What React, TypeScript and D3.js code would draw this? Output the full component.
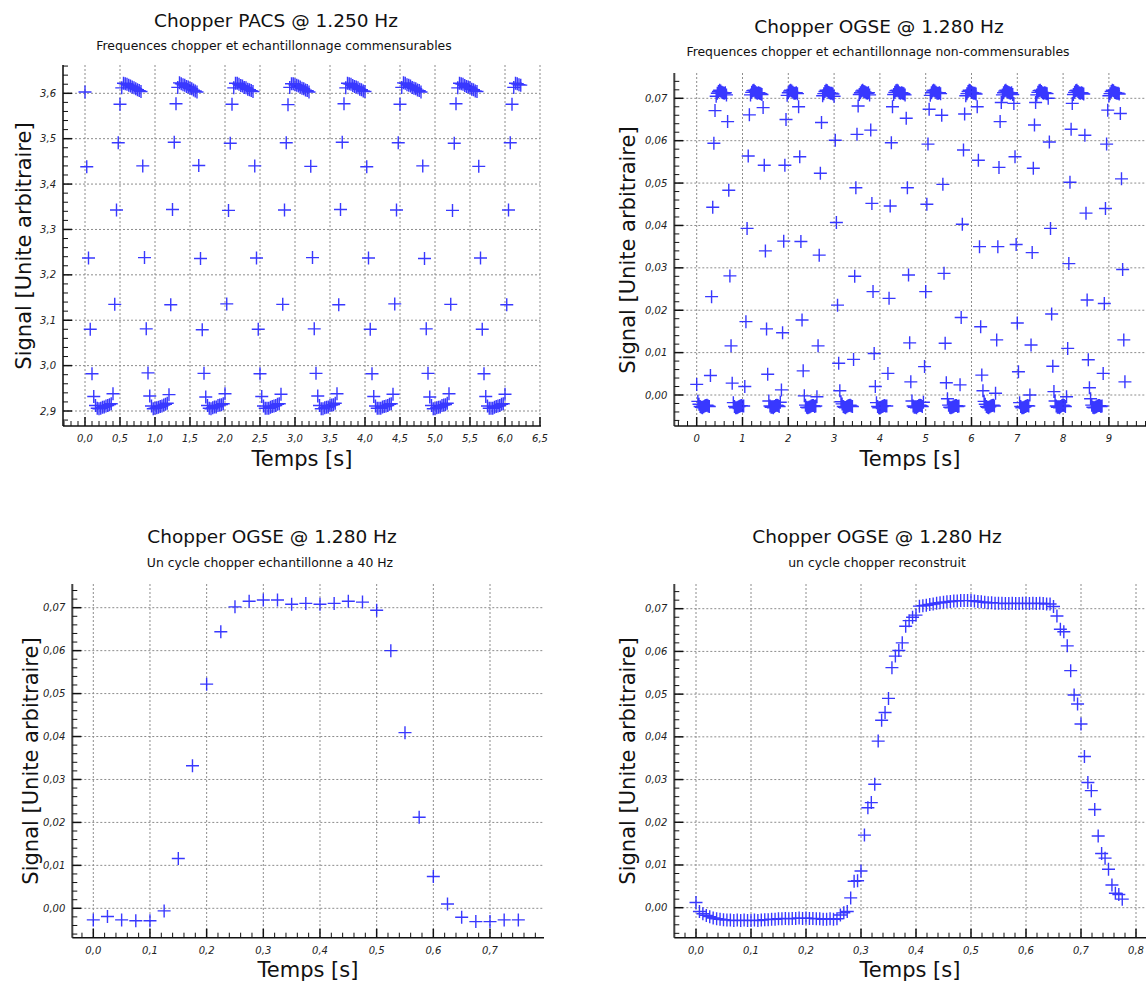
import React from "react";
import * as d3 from "d3";

// ---------------- DATA ----------------
const SAMPLE_DT = 0.025; // 40 Hz sampling
const OGSE_PERIOD = 0.78125; // 1.280 Hz chopper

// Chopper PACS @ 1.250 Hz : one row per chopper cycle (32 samples each, last one truncated)
const pacsCycles: number[][] = [
  [3.603, 3.438, 3.237, 3.080, 2.982, 2.932, 2.912, 2.906, 2.905, 2.906, 2.908, 2.909, 2.911, 2.912, 2.914, 2.916, 2.938, 3.135, 3.343, 3.491, 3.576, 3.612, 3.622, 3.621, 3.620, 3.618, 3.616, 3.614, 3.612, 3.610, 3.608, 3.606],
  [3.604, 3.440, 3.238, 3.081, 2.984, 2.933, 2.911, 2.905, 2.906, 2.907, 2.908, 2.910, 2.911, 2.913, 2.915, 2.917, 2.936, 3.134, 3.344, 3.492, 3.577, 3.613, 3.623, 3.621, 3.619, 3.618, 3.615, 3.614, 3.611, 3.610, 3.607, 3.605],
  [3.603, 3.441, 3.236, 3.079, 2.983, 2.931, 2.912, 2.906, 2.905, 2.907, 2.909, 2.909, 2.912, 2.913, 2.914, 2.916, 2.938, 3.136, 3.342, 3.490, 3.576, 3.612, 3.622, 3.622, 3.620, 3.617, 3.616, 3.613, 3.612, 3.609, 3.608, 3.606],
  [3.604, 3.440, 3.237, 3.080, 2.982, 2.932, 2.911, 2.906, 2.906, 2.906, 2.908, 2.910, 2.911, 2.912, 2.915, 2.916, 2.937, 3.135, 3.343, 3.491, 3.575, 3.613, 3.621, 3.621, 3.619, 3.618, 3.616, 3.614, 3.611, 3.610, 3.607, 3.606],
  [3.603, 3.439, 3.238, 3.081, 2.983, 2.933, 2.912, 2.905, 2.905, 2.907, 2.908, 2.909, 2.912, 2.913, 2.914, 2.917, 2.938, 3.134, 3.344, 3.492, 3.577, 3.612, 3.622, 3.621, 3.620, 3.617, 3.615, 3.614, 3.612, 3.609, 3.608, 3.605],
  [3.604, 3.438, 3.237, 3.080, 2.982, 2.932, 2.911, 2.906, 2.906, 2.906, 2.909, 2.910, 2.911, 2.912, 2.915, 2.916, 2.937, 3.136, 3.343, 3.491, 3.576, 3.613, 3.623, 3.622, 3.619, 3.618, 3.616, 3.613, 3.611, 3.610, 3.607, 3.606],
  [3.603, 3.440, 3.236, 3.081, 2.983, 2.931, 2.912, 2.905, 2.905, 2.907, 2.908, 2.909, 2.912, 2.913, 2.914, 2.917, 2.938, 3.135, 3.342, 3.490, 3.577, 3.612, 3.622, 3.621, 3.620, 3.617, 3.615, 3.614, 3.612, 3.609, 3.608, 3.605],
  [3.604, 3.439, 3.237, 3.080, 2.982, 2.932, 2.911, 2.906, 2.906, 2.906, 2.908, 2.910, 2.911, 2.912, 2.915, 2.916, 2.937, 3.134, 3.343, 3.491, 3.576, 3.613, 3.622, 3.621, 3.619, 3.618],
];

// Chopper OGSE @ 1.280 Hz : raw 40 Hz samples, one row per chopper cycle
const ogseCycles: number[][] = [
  [0.0025, -0.0015, -0.0022, -0.0027, -0.0029, -0.0030, -0.0028, -0.0026, -0.0025, -0.0024, -0.0026, -0.0027, 0.0046, 0.0232, 0.0443, 0.0594, 0.0671, 0.0705, 0.0712, 0.0716, 0.0719, 0.0717, 0.0714, 0.0713, 0.0712, 0.0713, 0.0708, 0.0645, 0.0483, 0.0281, 0.0116, 0.0028],
  [-0.0018, -0.0027, -0.0030, -0.0030, -0.0029, -0.0027, -0.0026, -0.0025, -0.0026, -0.0026, 0.0020, 0.0173, 0.0393, 0.0564, 0.0661, 0.0708, 0.0714, 0.0718, 0.0719, 0.0716, 0.0713, 0.0712, 0.0713, 0.0712, 0.0711, 0.0709, 0.0678, 0.0542, 0.0340, 0.0156, 0.0049],
  [-0.0014, -0.0026, -0.0029, -0.0029, -0.0030, -0.0027, -0.0025, -0.0024, -0.0025, -0.0027, -0.0017, 0.0012, 0.0147, 0.0363, 0.0542, 0.0650, 0.0707, 0.0713, 0.0717, 0.0719, 0.0717, 0.0714, 0.0712, 0.0712, 0.0713, 0.0711, 0.0680, 0.0562, 0.0362, 0.0177, 0.0057],
  [-0.0002, -0.0024, -0.0029, -0.0030, -0.0029, -0.0028, -0.0026, -0.0025, -0.0025, -0.0027, -0.0026, -0.0004, 0.0116, 0.0330, 0.0523, 0.0643, 0.0706, 0.0711, 0.0716, 0.0719, 0.0718, 0.0714, 0.0713, 0.0712, 0.0712, 0.0710, 0.0705, 0.0601, 0.0407, 0.0212, 0.0075],
  [0.0010, -0.0016, -0.0021, -0.0027, -0.0029, -0.0030, -0.0028, -0.0026, -0.0025, -0.0024, -0.0026, -0.0027, 0.0084, 0.0280, 0.0489, 0.0615, 0.0682, 0.0709, 0.0713, 0.0717, 0.0719, 0.0716, 0.0715, 0.0713, 0.0712, 0.0713, 0.0708, 0.0625, 0.0452, 0.0244, 0.0098, 0.0020],
  [-0.0018, -0.0027, -0.0030, -0.0030, -0.0029, -0.0027, -0.0026, -0.0025, -0.0026, -0.0026, 0.0051, 0.0228, 0.0446, 0.0595, 0.0680, 0.0709, 0.0714, 0.0718, 0.0719, 0.0717, 0.0713, 0.0712, 0.0713, 0.0712, 0.0711, 0.0708, 0.0653, 0.0489, 0.0283, 0.0123, 0.0031],
  [-0.0014, -0.0026, -0.0029, -0.0029, -0.0030, -0.0027, -0.0025, -0.0024, -0.0025, -0.0027, -0.0017, 0.0067, 0.0244, 0.0450, 0.0592, 0.0674, 0.0707, 0.0713, 0.0717, 0.0719, 0.0717, 0.0714, 0.0712, 0.0712, 0.0713, 0.0711, 0.0660, 0.0497, 0.0287, 0.0122, 0.0029],
  [-0.0009, -0.0024, -0.0029, -0.0030, -0.0029, -0.0028, -0.0026, -0.0025, -0.0025, -0.0027, -0.0026, 0.0024, 0.0183, 0.0403, 0.0578, 0.0663, 0.0706, 0.0711, 0.0716, 0.0719, 0.0718, 0.0714, 0.0713, 0.0712, 0.0712, 0.0710, 0.0680, 0.0554, 0.0350, 0.0161, 0.0047],
  [0.0010, -0.0015, -0.0022, -0.0027, -0.0029, -0.0030, -0.0028, -0.0026, -0.0025, -0.0024, -0.0026, 0.0004, 0.0130, 0.0350, 0.0537, 0.0645, 0.0690, 0.0708, 0.0713, 0.0717, 0.0719, 0.0716, 0.0714, 0.0713, 0.0712, 0.0713, 0.0709, 0.0688, 0.0562, 0.0355, 0.0170, 0.0055],
  [-0.0018, -0.0027, -0.0030, -0.0030, -0.0029, -0.0027, -0.0026, -0.0025, -0.0026, 0.0000, 0.0118, 0.0336, 0.0535, 0.0637, 0.0690, 0.0708, 0.0714, 0.0718, 0.0719, 0.0716, 0.0713, 0.0712, 0.0713, 0.0712, 0.0711, 0.0700, 0.0597, 0.0393, 0.0191, 0.0068, 0.0008],
  [-0.0014, -0.0026, -0.0029, -0.0029, -0.0030, -0.0027, -0.0025, -0.0024, -0.0025, -0.0027, -0.0004, 0.0110, 0.0310, 0.0502, 0.0627, 0.0688, 0.0709, 0.0714, 0.0718, 0.0719, 0.0716, 0.0713, 0.0712, 0.0713, 0.0712, 0.0710, 0.0613, 0.0429, 0.0224, 0.0083, 0.0017],
  [-0.0009, -0.0024, -0.0029, -0.0030, -0.0029, -0.0028, -0.0026, -0.0025, -0.0025, -0.0027, -0.0026, 0.0051, 0.0216, 0.0440, 0.0592, 0.0672, 0.0706, 0.0711, 0.0716, 0.0719, 0.0718, 0.0714, 0.0713, 0.0712, 0.0712, 0.0710, 0.0664, 0.0510, 0.0296, 0.0130, 0.0031],
];

// One chopper cycle sampled at 40 Hz
const cycleSignal40Hz: number[] = [
  -0.0027, -0.0019, -0.0027, -0.0029, -0.0029, -0.0006, 0.0116, 0.0332, 0.0522, 0.0644, 0.0702,
  0.0715, 0.0718, 0.0718, 0.0708, 0.0710, 0.0708, 0.0710, 0.0715, 0.0713, 0.0694, 0.0600,
  0.0409, 0.0212, 0.0074, 0.0010, -0.0021, -0.0031, -0.0031, -0.0027, -0.0027,
];

// Reconstructed chopper cycle (125 phases over one period)
const reconstructedSignal: number[] = [
  0.0012, -0.0009, -0.0014, -0.0018, -0.0021, -0.0024, -0.0026, -0.0027, -0.0028, -0.0029,
  -0.0029, -0.0030, -0.0029, -0.0030, -0.0029, -0.0030, -0.0030, -0.0029, -0.0030, -0.0029,
  -0.0028, -0.0028, -0.0027, -0.0027, -0.0026, -0.0026, -0.0025, -0.0026, -0.0025, -0.0025,
  -0.0024, -0.0025, -0.0024, -0.0025, -0.0025, -0.0026, -0.0026, -0.0027, -0.0027, -0.0026,
  -0.0027, -0.0026, -0.0017, -0.0012, -0.0009, 0.0023, 0.0062, 0.0063, 0.0086, 0.0170,
  0.0234, 0.0246, 0.0289, 0.0390, 0.0439, 0.0457, 0.0490, 0.0562, 0.0589, 0.0602,
  0.0620, 0.0659, 0.0672, 0.0680, 0.0685, 0.0706, 0.0707, 0.0708, 0.0710, 0.0711,
  0.0713, 0.0714, 0.0715, 0.0716, 0.0717, 0.0718, 0.0718, 0.0719, 0.0719, 0.0719,
  0.0719, 0.0718, 0.0717, 0.0716, 0.0715, 0.0714, 0.0714, 0.0713, 0.0713, 0.0713,
  0.0712, 0.0712, 0.0713, 0.0712, 0.0712, 0.0713, 0.0713, 0.0712, 0.0713, 0.0712,
  0.0713, 0.0712, 0.0711, 0.0711, 0.0705, 0.0683, 0.0652, 0.0646, 0.0613, 0.0555,
  0.0498, 0.0477, 0.0430, 0.0354, 0.0293, 0.0274, 0.0230, 0.0168, 0.0127, 0.0116,
  0.0090, 0.0053, 0.0034, 0.0031, 0.0020,
];

// Tick values
const pacsXTicks = [0, 0.5, 1, 1.5, 2, 2.5, 3, 3.5, 4, 4.5, 5, 5.5, 6, 6.5];
const pacsYTicks = [2.9, 3.0, 3.1, 3.2, 3.3, 3.4, 3.5, 3.6];
const ogseXTicks = [0, 1, 2, 3, 4, 5, 6, 7, 8, 9];
const signalYTicks = [0, 0.01, 0.02, 0.03, 0.04, 0.05, 0.06, 0.07];
const cycleXTicks = [0, 0.1, 0.2, 0.3, 0.4, 0.5, 0.6, 0.7];
const reconXTicks = [0, 0.1, 0.2, 0.3, 0.4, 0.5, 0.6, 0.7, 0.8];

// ---------------- HELPERS ----------------
const FONT = "'DejaVu Sans', Verdana, sans-serif";
const BLUE = "#1c1cff";

const commaFmt = (spec: string) => {
  const f = d3.format(spec);
  return (v: number) => f(v).replace(".", ",").replace("-", "");
};

function flattenCycles(rows: number[][], dt: number): [number, number][] {
  const out: [number, number][] = [];
  let k = 0;
  rows.forEach((row) =>
    row.forEach((v) => {
      out.push([k * dt, v]);
      k++;
    })
  );
  return out;
}

function stepValues(a: number, b: number, step: number): number[] {
  const s = Math.ceil(a / step - 1e-6);
  const e = Math.floor(b / step + 1e-6);
  return d3.range(s, e + 1).map((n) => +(n * step).toFixed(6));
}

type Spec = {
  box: { left: number; right: number; top: number; bottom: number };
  gridRight: number;
  xRef: [number, number];
  xPx: [number, number];
  yRef: [number, number];
  yPx: [number, number];
  xTicks: number[];
  xMinorStep: number;
  xFmt: (v: number) => string;
  yTicks: number[];
  yMinorStep: number;
  yFmt: (v: number) => string;
  points: [number, number][];
  title: string;
  titleX: number;
  titleY: number;
  subtitle: string;
  subX: number;
  subY: number;
  xLabelX: number;
  xLabelY: number;
  yLabelX: number;
  yLabelY: number;
};

function Panel({ s }: { s: Spec }) {
  const x = d3.scaleLinear().domain(s.xRef).range(s.xPx);
  const y = d3.scaleLinear().domain(s.yRef).range(s.yPx);
  const { left, right, top, bottom } = s.box;
  const isMajor = (arr: number[], v: number, st: number) => arr.some((t) => Math.abs(t - v) < st / 10);
  const xMinor = stepValues(x.invert(left), x.invert(right), s.xMinorStep).filter(
    (v) => !isMajor(s.xTicks, v, s.xMinorStep) && x(v) > left + 1
  );
  const yMinor = stepValues(y.invert(bottom), y.invert(top), s.yMinorStep).filter(
    (v) => !isMajor(s.yTicks, v, s.yMinorStep) && y(v) < bottom - 1
  );
  const h = 6.5;
  const d = s.points
    .map(([t, v]) => {
      const px = x(t);
      const py = y(v);
      return `M${px - h},${py}H${px + h}M${px},${py - h}V${py + h}`;
    })
    .join("");
  const MAJ = 9;
  const MIN = 5;
  return (
    <g>
      {/* grid */}
      {s.xTicks.map((t) => (
        <line key={"gx" + t} x1={x(t)} x2={x(t)} y1={top} y2={bottom} stroke="#8c8c8c" strokeWidth={1} strokeDasharray="2,2" />
      ))}
      {s.yTicks.map((v) => (
        <line key={"gy" + v} x1={left} x2={s.gridRight} y1={y(v)} y2={y(v)} stroke="#8c8c8c" strokeWidth={1} strokeDasharray="2,2" />
      ))}
      {/* data */}
      <path d={d} stroke={BLUE} strokeWidth={1.4} fill="none" opacity={0.88} />
      {/* axes */}
      <line x1={left} x2={left} y1={top} y2={bottom} stroke="#444" strokeWidth={2} />
      <line x1={left} x2={right} y1={bottom} y2={bottom} stroke="#111" strokeWidth={1.5} />
      {s.xTicks.map((t) => (
        <line key={"xt" + t} x1={x(t)} x2={x(t)} y1={bottom} y2={bottom - MAJ} stroke="#111" strokeWidth={1.5} />
      ))}
      {xMinor.map((t) => (
        <line key={"xm" + t} x1={x(t)} x2={x(t)} y1={bottom} y2={bottom - MIN} stroke="#111" strokeWidth={1} />
      ))}
      {s.yTicks.map((v) => (
        <line key={"yt" + v} x1={left} x2={left + MAJ} y1={y(v)} y2={y(v)} stroke="#111" strokeWidth={1.5} />
      ))}
      {yMinor.map((v) => (
        <line key={"ym" + v} x1={left} x2={left + MIN} y1={y(v)} y2={y(v)} stroke="#111" strokeWidth={1} />
      ))}
      {/* tick labels */}
      {s.xTicks.map((t) => (
        <text key={"xl" + t} x={x(t)} y={bottom + 16} textAnchor="middle" fontSize={10} fontStyle="italic" fontFamily={FONT} fill="#222">
          {s.xFmt(t)}
        </text>
      ))}
      {s.yTicks.map((v) => (
        <text key={"yl" + v} x={left - 7} y={y(v) + 3.5} textAnchor="end" fontSize={10} fontStyle="italic" fontFamily={FONT} fill="#222">
          {s.yFmt(v)}
        </text>
      ))}
      {/* titles */}
      <text x={s.titleX} y={s.titleY} textAnchor="middle" fontSize={18.5} fontFamily={FONT} fill="#111">
        {s.title}
      </text>
      <text x={s.subX} y={s.subY} textAnchor="middle" fontSize={12.4} fontFamily={FONT} fill="#111">
        {s.subtitle}
      </text>
      <text x={s.xLabelX} y={s.xLabelY} textAnchor="middle" fontSize={21} fontFamily={FONT} fill="#111">
        Temps [s]
      </text>
      <text
        transform={`translate(${s.yLabelX},${s.yLabelY}) rotate(-90)`}
        textAnchor="middle"
        fontSize={21}
        fontFamily={FONT}
        fill="#111"
      >
        Signal [Unite arbitraire]
      </text>
    </g>
  );
}

export default function App() {
  const pacsPoints = flattenCycles(pacsCycles, SAMPLE_DT);
  const ogsePoints = flattenCycles(ogseCycles, SAMPLE_DT);
  const cyclePoints: [number, number][] = cycleSignal40Hz.map((v, i) => [i * SAMPLE_DT, v]);
  const phaseStep = OGSE_PERIOD / reconstructedSignal.length;
  const reconPoints: [number, number][] = reconstructedSignal.map((v, i) => [i * phaseStep, v]);

  const f1 = commaFmt(".1f");
  const f2 = commaFmt(".2f");
  const f0 = d3.format("d");

  const specs: Spec[] = [
    {
      box: { left: 63, right: 541, top: 65, bottom: 426 },
      gridRight: 540,
      xRef: [0, 6.5], xPx: [85, 540],
      yRef: [2.9, 3.6], yPx: [411, 93.3],
      xTicks: pacsXTicks, xMinorStep: 0.1, xFmt: f1,
      yTicks: pacsYTicks, yMinorStep: 0.02, yFmt: f1,
      points: pacsPoints,
      title: "Chopper PACS @ 1.250 Hz", titleX: 276, titleY: 27,
      subtitle: "Frequences chopper et echantillonnage commensurables", subX: 274, subY: 50,
      xLabelX: 302, xLabelY: 466, yLabelX: 31, yLabelY: 246,
    },
    {
      box: { left: 674.3, right: 1146, top: 73, bottom: 426 },
      gridRight: 1146,
      xRef: [0, 9], xPx: [696.7, 1108.9],
      yRef: [0, 0.07], yPx: [395, 98.3],
      xTicks: ogseXTicks, xMinorStep: 0.2, xFmt: f0,
      yTicks: signalYTicks, yMinorStep: 0.002, yFmt: f2,
      points: ogsePoints,
      title: "Chopper OGSE @ 1.280 Hz", titleX: 879, titleY: 33,
      subtitle: "Frequences chopper et echantillonnage non-commensurables", subX: 878, subY: 56,
      xLabelX: 910, xLabelY: 466, yLabelX: 635, yLabelY: 250,
    },
    {
      box: { left: 72.3, right: 544, top: 584, bottom: 937.7 },
      gridRight: 544,
      xRef: [0, 0.7], xPx: [93.3, 490],
      yRef: [0, 0.07], yPx: [908.3, 607.7],
      xTicks: cycleXTicks, xMinorStep: 0.02, xFmt: f1,
      yTicks: signalYTicks, yMinorStep: 0.002, yFmt: f2,
      points: cyclePoints,
      title: "Chopper OGSE @ 1.280 Hz", titleX: 272, titleY: 543,
      subtitle: "Un cycle chopper echantillonne a 40 Hz", subX: 270, subY: 567,
      xLabelX: 308, xLabelY: 977, yLabelX: 38, yLabelY: 761,
    },
    {
      box: { left: 674.3, right: 1146, top: 584, bottom: 937.7 },
      gridRight: 1146,
      xRef: [0, 0.8], xPx: [696, 1136],
      yRef: [0, 0.07], yPx: [907.7, 608.7],
      xTicks: reconXTicks, xMinorStep: 0.02, xFmt: f1,
      yTicks: signalYTicks, yMinorStep: 0.002, yFmt: f2,
      points: reconPoints,
      title: "Chopper OGSE @ 1.280 Hz", titleX: 877, titleY: 543,
      subtitle: "un cycle chopper reconstruit", subX: 877, subY: 567,
      xLabelX: 910, xLabelY: 977, yLabelX: 635, yLabelY: 761,
    },
  ];

  return (
    <svg
      width={1146}
      height={983}
      viewBox="0 0 1146 983"
      style={{ position: "absolute", left: 0, top: 0, display: "block", background: "#fff" }}
    >
      <rect x={0} y={0} width={1146} height={983} fill="#fff" />
      {specs.map((s, i) => (
        <Panel key={i} s={s} />
      ))}
    </svg>
  );
}
